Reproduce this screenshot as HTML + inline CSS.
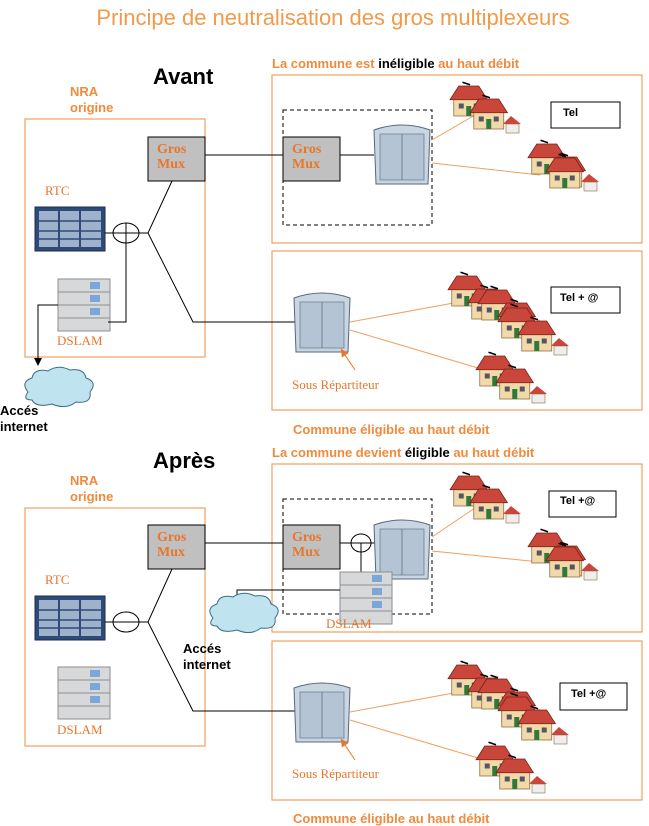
<!DOCTYPE html>
<html><head><meta charset="utf-8"><style>
html,body{margin:0;padding:0;background:#fff;}
svg{display:block;}
.o{fill:#f08a3c;font-family:"Liberation Sans",sans-serif;font-weight:bold;font-size:13px;}
.s{fill:#e8762c;font-family:"Liberation Serif",serif;font-size:13px;}
.m{fill:#e8762c;font-family:"Liberation Serif",serif;font-weight:bold;font-size:14px;}
.b{fill:#000;font-family:"Liberation Sans",sans-serif;font-weight:bold;}
</style></head><body>
<svg width="649" height="826" viewBox="0 0 649 826" xmlns="http://www.w3.org/2000/svg">
<defs>
<g id="h" transform="scale(1.25)">
<rect x="3" y="10" width="24" height="14" fill="#f1d9a8" stroke="#8a6a40" stroke-width="0.6"/>
<polygon points="0,11 7,0 23,0 30,11" fill="#c8463a" stroke="#7a2018" stroke-width="0.6"/>
<rect x="7" y="14" width="4" height="4" fill="#556"/><rect x="19" y="14" width="4" height="4" fill="#556"/>
<rect x="13" y="16" width="4" height="8" fill="#2f7a3a"/>
<line x1="10" y1="-3" x2="16" y2="-1" stroke="#000" stroke-width="1.2"/>
</g>
<g id="hh"><use href="#h"/><use href="#h" x="20" y="13"/><g transform="translate(56,38)"><rect x="0" y="0" width="13" height="9" fill="#eee" stroke="#8a6a40" stroke-width="0.6"/><polygon points="-3,0 5,-8 15,0" fill="#c8463a"/></g></g>
<g id="cab">
<path d="M2,8 Q30,-2 58,8 L56,62 L4,62 Z" fill="#c9d6e2" stroke="#56697c" stroke-width="1"/>
<rect x="8" y="12" width="44" height="46" fill="#b4c4d4" stroke="#6f8294" stroke-width="0.8"/>
<line x1="30" y1="12" x2="30" y2="58" stroke="#6f8294"/>
</g>
<g id="rtc">
<rect x="0" y="0" width="70" height="44" fill="#2e4a78" stroke="#1c2e4e"/>
<rect x="4" y="4" width="19" height="36" fill="#9fb2cc"/><rect x="25" y="4" width="19" height="36" fill="#9fb2cc"/><rect x="46" y="4" width="20" height="36" fill="#9fb2cc"/>
<path d="M4,14H66M4,24H66M4,32H66" stroke="#2e4a78" stroke-width="1.5"/>
</g>
<g id="dsl">
<rect x="0" y="0" width="52" height="52" fill="#d6d8da" stroke="#8c8e90"/>
<path d="M0,13H52M0,26H52M0,39H52" stroke="#8c8e90"/>
<rect x="32" y="3" width="10" height="7" fill="#7aa6d8"/><rect x="32" y="16" width="10" height="7" fill="#7aa6d8"/><rect x="32" y="29" width="10" height="7" fill="#7aa6d8"/>
</g>
<g id="cloud"><path d="M8,28 Q0,18 12,14 Q14,4 28,7 Q38,0 50,6 Q64,4 66,14 Q78,18 70,28 Q72,40 56,38 Q46,46 32,40 Q16,44 12,36 Q2,36 8,28 Z" fill="#bfe3ef" stroke="#3b6e86" stroke-width="1"/></g>
<marker id="ar" markerWidth="8" markerHeight="8" refX="4" refY="4" orient="auto"><path d="M0,0L8,4L0,8Z" fill="#000"/></marker>
<marker id="ao" markerWidth="8" markerHeight="8" refX="4" refY="4" orient="auto"><path d="M0,0L8,4L0,8Z" fill="#e8762c"/></marker>
</defs>

<text x="333" y="25" text-anchor="middle" font-family="Liberation Sans,sans-serif" font-size="22" fill="#f39a4a">Principe de neutralisation des gros multiplexeurs</text>

<!-- AVANT -->
<text class="b" x="153" y="84" font-size="22">Avant</text>
<text class="o" x="70" y="96">NRA</text><text class="o" x="70" y="112">origine</text>
<text class="o" x="272" y="68">La commune est <tspan fill="#000">inéligible</tspan> au haut débit</text>
<rect x="25" y="119" width="180" height="238" fill="none" stroke="#f0a060" stroke-width="1.2"/>
<rect x="272" y="75" width="370" height="168" fill="none" stroke="#f0a060" stroke-width="1.2"/>
<rect x="272" y="251" width="370" height="159" fill="none" stroke="#f0a060" stroke-width="1.2"/>
<rect x="283" y="110" width="149" height="115" fill="none" stroke="#000" stroke-dasharray="4,3"/>
<rect x="148" y="137" width="57" height="44" fill="#c0c0c0" stroke="#000"/>
<text class="m" x="157" y="153">Gros</text><text class="m" x="157" y="168">Mux</text>
<rect x="283" y="137" width="57" height="44" fill="#c0c0c0" stroke="#000"/>
<text class="m" x="292" y="153">Gros</text><text class="m" x="292" y="168">Mux</text>
<line x1="205" y1="155" x2="283" y2="155" stroke="#000"/>
<line x1="340" y1="155" x2="374" y2="155" stroke="#000"/>
<use href="#cab" x="372" y="122"/>
<text class="s" x="45" y="195">RTC</text>
<use href="#rtc" x="35" y="207"/>
<use href="#dsl" x="58" y="279"/>
<text class="s" x="57" y="345">DSLAM</text>
<path d="M105,233H148L172,181M148,233L193,322H296" fill="none" stroke="#000"/>
<ellipse cx="126" cy="233" rx="13" ry="10" fill="none" stroke="#000"/>
<path d="M126,223V322H108" fill="none" stroke="#000"/>
<path d="M58,305H38V362" fill="none" stroke="#000" marker-end="url(#ar)"/>
<use href="#cloud" x="20" y="364"/>
<text class="b" x="0" y="415" font-size="13">Accés</text><text class="b" x="0" y="431" font-size="13">internet</text>
<path d="M432,140L475,115M432,163L540,175" stroke="#f0a060" fill="none"/>
<use href="#hh" x="450" y="86"/>
<use href="#hh" x="528" y="144"/><use href="#h" x="546" y="158"/>
<rect x="551" y="102" width="69" height="26" fill="#fff" stroke="#000"/>
<text class="b" x="563" y="116" font-size="11">Tel</text>
<use href="#cab" x="292" y="290"/>
<path d="M350,322L470,300M350,330L478,368" stroke="#f0a060" fill="none"/>
<use href="#hh" x="448" y="276"/><use href="#hh" x="478" y="290"/><use href="#hh" x="498" y="308"/>
<use href="#hh" x="476" y="356"/>
<rect x="551" y="287" width="69" height="26" fill="#fff" stroke="#000"/>
<text class="b" x="560" y="301" font-size="11">Tel + @</text>
<line x1="355" y1="370" x2="343" y2="352" stroke="#e8762c" marker-end="url(#ao)"/>
<text class="s" x="292" y="389">Sous Répartiteur</text>
<text class="o" x="293" y="434">Commune éligible au haut débit</text>

<!-- APRES -->
<text class="b" x="153" y="468" font-size="22">Après</text>
<text class="o" x="70" y="485">NRA</text><text class="o" x="70" y="501">origine</text>
<text class="o" x="272" y="457">La commune devient <tspan fill="#000">éligible</tspan> au haut débit</text>
<rect x="25" y="508" width="180" height="238" fill="none" stroke="#f0a060" stroke-width="1.2"/>
<rect x="272" y="464" width="370" height="168" fill="none" stroke="#f0a060" stroke-width="1.2"/>
<rect x="272" y="641" width="370" height="159" fill="none" stroke="#f0a060" stroke-width="1.2"/>
<rect x="283" y="499" width="149" height="115" fill="none" stroke="#000" stroke-dasharray="4,3"/>
<rect x="148" y="525" width="57" height="44" fill="#c0c0c0" stroke="#000"/>
<text class="m" x="157" y="541">Gros</text><text class="m" x="157" y="556">Mux</text>
<rect x="283" y="525" width="57" height="44" fill="#c0c0c0" stroke="#000"/>
<text class="m" x="292" y="541">Gros</text><text class="m" x="292" y="556">Mux</text>
<line x1="205" y1="543" x2="283" y2="543" stroke="#000"/>
<path d="M340,543H384M361,543V572" stroke="#000" fill="none"/>
<ellipse cx="361" cy="543" rx="10" ry="9" fill="none" stroke="#000"/>
<use href="#cab" x="372" y="517"/>
<use href="#dsl" x="340" y="572"/>
<text class="s" x="326" y="628" font-size="14">DSLAM</text>
<path d="M340,590H237V600" fill="none" stroke="#000" marker-end="url(#ar)"/>
<use href="#cloud" x="205" y="590"/>
<text class="b" x="183" y="653" font-size="13">Accés</text><text class="b" x="183" y="669" font-size="13">internet</text>
<text class="s" x="45" y="584">RTC</text>
<use href="#rtc" x="35" y="596"/>
<use href="#dsl" x="58" y="667"/>
<text class="s" x="57" y="734">DSLAM</text>
<path d="M105,622H148L172,569M148,622L193,711H296" fill="none" stroke="#000"/>
<ellipse cx="126" cy="622" rx="13" ry="10" fill="none" stroke="#000"/>
<path d="M432,537L475,508M432,551L540,562" stroke="#f0a060" fill="none"/>
<use href="#hh" x="450" y="476"/>
<use href="#hh" x="528" y="533"/><use href="#h" x="546" y="547"/>
<rect x="549" y="491" width="67" height="26" fill="#fff" stroke="#000"/>
<text class="b" x="560" y="504" font-size="11">Tel +@</text>
<use href="#cab" x="292" y="680"/>
<path d="M350,712L470,690M350,720L478,758" stroke="#f0a060" fill="none"/>
<use href="#hh" x="448" y="665"/><use href="#hh" x="478" y="679"/><use href="#hh" x="498" y="697"/>
<use href="#hh" x="476" y="746"/>
<rect x="560" y="683" width="67" height="27" fill="#fff" stroke="#000"/>
<text class="b" x="571" y="697" font-size="11">Tel +@</text>
<line x1="355" y1="760" x2="343" y2="742" stroke="#e8762c" marker-end="url(#ao)"/>
<text class="s" x="292" y="778">Sous Répartiteur</text>
<text class="o" x="293" y="823">Commune éligible au haut débit</text>
</svg>
</body></html>
